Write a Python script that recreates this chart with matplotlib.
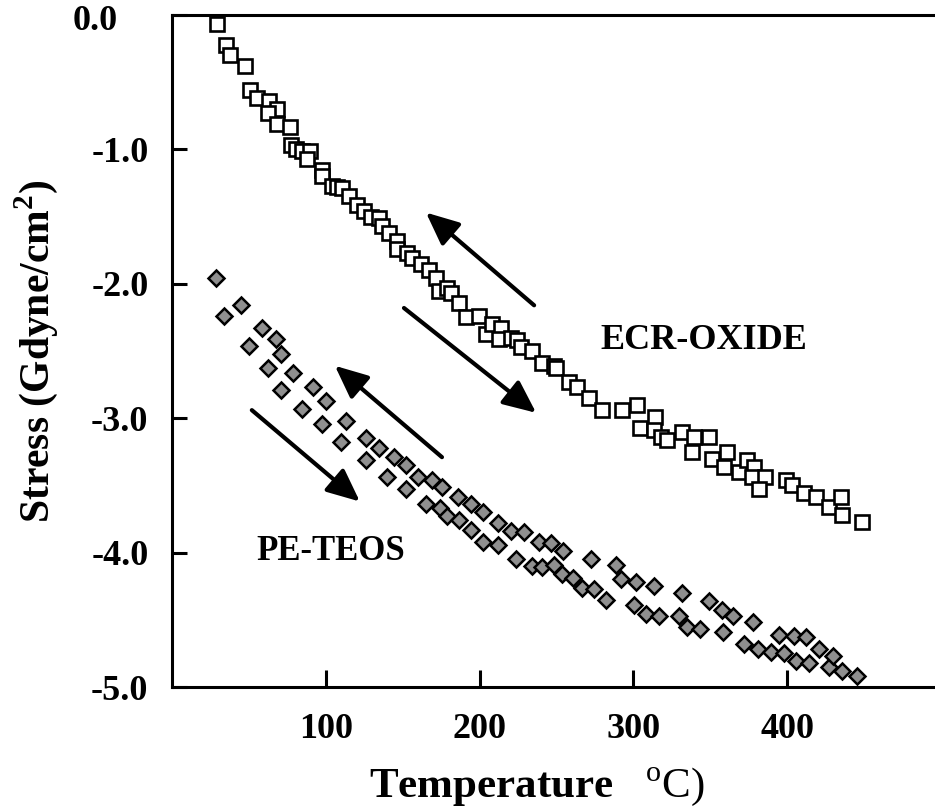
import numpy as np
import matplotlib
matplotlib.use('Agg')
import matplotlib.pyplot as plt

plt.rcParams['font.family'] = ['Liberation Serif', 'DejaVu Serif']
plt.rcParams['font.weight'] = 'bold'
plt.rcParams['mathtext.fontset'] = 'custom'
plt.rcParams['mathtext.rm'] = 'Liberation Serif:weight=normal'
plt.rcParams['mathtext.bf'] = 'Liberation Serif:weight=bold'

# ECR-OXIDE (open squares)
ecr_temp = [29.1, 34.9, 37.5, 47.3, 50.6, 55.1, 62.9, 68.1, 62.3, 68.1, 76.6, 77.2,
            80.5, 84.4, 89.6, 87.7, 97.4, 97.4, 103.9, 107.2, 110.4, 115.0, 120.1,
            124.7, 129.2, 134.5, 136.5, 141.0, 146.2, 146.2, 152.7, 156.0, 161.8,
            167.0, 171.6, 173.6, 178.8, 181.4, 186.6, 191.1, 199.6, 204.2, 208.0,
            213.9, 212.6, 220.4, 224.3, 226.9, 234.1, 240.6, 248.4, 249.7, 258.1,
            263.4, 271.2, 279.6, 292.6, 302.4, 314.1, 304.4, 313.5, 318.0, 321.9,
            331.7, 339.5, 349.3, 338.2, 351.2, 361.0, 359.0, 368.8, 374.0, 378.5,
            377.2, 385.7, 381.8, 399.4, 403.3, 411.1, 418.9, 427.4, 435.2, 435.8,
            448.8]
ecr_stress = [-0.07, -0.22, -0.30, -0.38, -0.56, -0.62, -0.64, -0.70, -0.73, -0.81,
              -0.83, -0.97, -1.00, -1.01, -1.01, -1.07, -1.15, -1.20, -1.27, -1.28,
              -1.29, -1.35, -1.41, -1.46, -1.50, -1.51, -1.57, -1.62, -1.68, -1.74,
              -1.77, -1.81, -1.85, -1.90, -1.96, -2.05, -2.03, -2.07, -2.14, -2.25,
              -2.24, -2.37, -2.30, -2.33, -2.41, -2.40, -2.42, -2.47, -2.50, -2.59,
              -2.61, -2.63, -2.73, -2.77, -2.85, -2.94, -2.94, -2.90, -2.99, -3.07,
              -3.09, -3.14, -3.16, -3.10, -3.14, -3.14, -3.25, -3.30, -3.25, -3.36,
              -3.40, -3.31, -3.36, -3.44, -3.44, -3.53, -3.46, -3.50, -3.56, -3.59,
              -3.66, -3.59, -3.72, -3.77]

# PE-TEOS (gray diamonds)
teos_temp = [28.4, 33.6, 44.7, 49.9, 58.4, 62.3, 67.5, 70.8, 70.8, 78.5, 84.4, 91.5,
             97.4, 100.0, 109.8, 113.0, 126.0, 126.0, 134.5, 139.7, 144.3, 152.1,
             152.1, 159.9, 165.1, 169.0, 174.2, 175.5, 178.8, 185.9, 186.6, 194.4,
             194.4, 202.2, 202.2, 212.0, 212.0, 220.4, 223.7, 228.9, 234.1, 238.7,
             240.6, 246.5, 248.4, 253.6, 254.2, 260.7, 266.6, 272.4, 274.4, 282.2,
             288.8, 292.0, 300.5, 301.8, 308.3, 313.5, 316.8, 329.8, 331.7, 335.0,
             343.4, 349.3, 357.8, 358.4, 364.9, 372.1, 377.9, 381.2, 389.6, 394.8,
             398.0, 404.5, 405.8, 412.3, 414.3, 420.8, 427.4, 430.0, 435.8, 445.6]
teos_stress = [-1.96, -2.24, -2.16, -2.46, -2.33, -2.63, -2.41, -2.52, -2.79, -2.66,
               -2.93, -2.77, -3.04, -2.87, -3.18, -3.02, -3.15, -3.31, -3.22, -3.44,
               -3.29, -3.35, -3.53, -3.44, -3.64, -3.46, -3.67, -3.51, -3.73, -3.59,
               -3.76, -3.64, -3.83, -3.70, -3.92, -3.78, -3.94, -3.84, -4.05, -3.85,
               -4.10, -3.92, -4.11, -3.93, -4.09, -4.16, -3.99, -4.19, -4.26, -4.05,
               -4.27, -4.35, -4.09, -4.20, -4.39, -4.22, -4.46, -4.25, -4.47, -4.47,
               -4.30, -4.55, -4.57, -4.36, -4.43, -4.59, -4.47, -4.68, -4.52, -4.72,
               -4.74, -4.61, -4.75, -4.62, -4.81, -4.63, -4.82, -4.72, -4.85, -4.77,
               -4.88, -4.92]

# arrows: (tail x, tail y, tip x, tip y)
arrows = [(235.4, -2.16, 165.1, -1.47),
          (150.8, -2.18, 236.7, -2.96),
          (175.5, -3.29, 105.9, -2.61),
          (51.9, -2.94, 122.1, -3.62)]

xticks = [100, 200, 300, 400]
yticks = [0.0, -1.0, -2.0, -3.0, -4.0, -5.0]

fig = plt.figure(figsize=(9.35, 8.07), dpi=100)
ax = fig.add_axes([172/935, 1 - 687/807, 1 - 172/935, 672/807])

ax.plot(ecr_temp, ecr_stress, ls='none', marker='s', ms=10, mfc='white',
        mec='black', mew=1.9)
ax.plot(teos_temp, teos_stress, ls='none', marker='D', ms=8.4, mfc='#8f8f8f',
        mec='black', mew=1.8)

for x0, y0, x1, y1 in arrows:
    ax.annotate('', xy=(x1, y1), xytext=(x0, y0),
                arrowprops=dict(arrowstyle='-|>,head_length=1.0,head_width=0.45',
                                lw=3.0, color='black', mutation_scale=20,
                                shrinkA=0, shrinkB=0))

ax.text(346, -2.42, 'ECR-OXIDE', fontsize=26, fontweight='bold',
        ha='center', va='center')
ax.text(103.3, -3.99, 'PE-TEOS', fontsize=25, fontweight='bold',
        ha='center', va='center')

ax.set_xlim(0, 496)
ax.set_ylim(-5.0, 0.0)
ax.set_xticks(xticks)
ax.set_xticklabels([str(t) for t in xticks])
ax.set_yticks(yticks)
ax.set_yticklabels([''] + ['%.1f' % t for t in yticks[1:]])
ax.annotate('0.0', xy=(0, 0), xycoords=('axes fraction', 'data'),
            xytext=(-54, -7), textcoords='offset pixels', ha='right',
            va='center', fontsize=26, fontweight='bold')

ax.tick_params(axis='x', direction='in', length=12, width=2.2, pad=19,
               labelsize=26)
ax.tick_params(axis='y', direction='in', length=11, width=2.2, pad=17,
               labelsize=26)
for side in ['left', 'top', 'bottom']:
    ax.spines[side].set_linewidth(2.2)
ax.spines['right'].set_visible(False)

ax.set_xlabel(r'Temperature   $^{\mathrm{o}}\mathrm{C)}$', fontsize=31,
              fontweight='bold')
ax.xaxis.set_label_coords(0.478, -0.1176)
ax.xaxis.label.set_va('top')
ax.set_ylabel(r'Stress (Gdyne/cm$^{\mathbf{2}}$)', fontsize=30,
              fontweight='bold')
ax.yaxis.set_label_coords(-0.147, 0.5)

fig.savefig('out.png', dpi=100)
